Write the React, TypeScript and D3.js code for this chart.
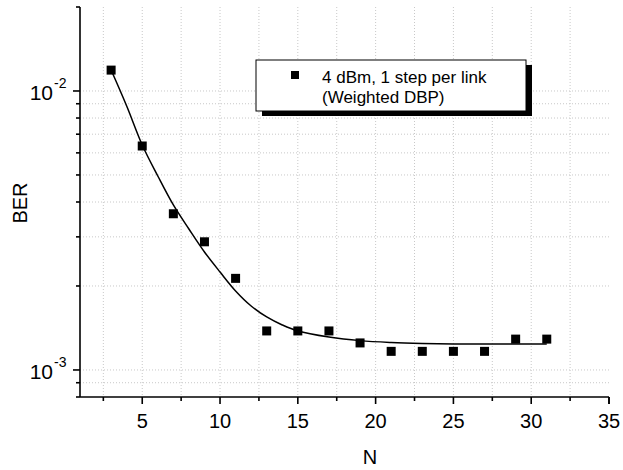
import * as d3 from "d3";

const width = 623;
const height = 470;
const margin = { left: 80, right: 14, top: 7, bottom: 73 };

// measured points
const nValues = [3, 5, 7, 9, 11, 13, 15, 17, 19, 21, 23, 25, 27, 29, 31];
const berValues = [
    0.01188, 0.00635, 0.00363, 0.00288, 0.00213, 0.00138, 0.00138, 0.00138,
    0.00125, 0.001166, 0.001166, 0.001166, 0.001166, 0.00129, 0.00129,
];

// fitted curve
const fitN = [3, 4, 5, 6, 7, 8, 9, 10, 11, 12, 13, 14, 15, 17, 19, 21, 23, 25, 27, 29, 31];
const fitBer = [
    0.01189, 0.008835, 0.006405, 0.004958, 0.003903, 0.003201, 0.002648, 0.002245,
    0.00192, 0.001696, 0.001549, 0.00145, 0.00138, 0.001313, 0.001274, 0.001255,
    0.001245, 0.00124, 0.00124, 0.00124, 0.00124,
];

const xMajor = [5, 10, 15, 20, 25, 30, 35];
const xMinor = [2.5, 7.5, 12.5, 17.5, 22.5, 27.5, 32.5];
const yMajor = [{ v: 0.01, exp: "-2" }, { v: 0.001, exp: "-3" }];
const yMinor = [0.0009, 0.002, 0.003, 0.004, 0.005, 0.006, 0.007, 0.008, 0.009, 0.02];

const legendLines = ["4 dBm, 1 step per link", "(Weighted DBP)"];

const font = "Arial, 'Liberation Sans', sans-serif";

export default function App() {
    const x = d3.scaleLinear().domain([1, 35]).range([margin.left, width - margin.right]);
    const y = d3.scaleLog().domain([0.0008, 0.02]).range([height - margin.bottom, margin.top]);

    const x0 = margin.left;
    const x1 = width - margin.right;
    const y0 = height - margin.bottom;
    const y1 = margin.top;

    const line = d3.line<number>()
        .x((d, i) => x(fitN[i]))
        .y(d => y(d))
        .curve(d3.curveCatmullRom.alpha(0.5));

    const gridV = [...xMinor, ...xMajor.filter(v => v < 35)];
    const gridH = [...yMinor.filter(v => v < 0.02), ...yMajor.map(d => d.v)];

    const sq = 9;

    return (
        <svg width={width} height={height} style={{ position: "absolute", left: 0, top: 0, background: "#fff" }} fontFamily={font}>
            {/* grid */}
            <g stroke="#c8c8c8" strokeWidth={1} strokeDasharray="1,2">
                {gridV.map(v => <line key={"gv" + v} x1={x(v)} x2={x(v)} y1={y1} y2={y0} />)}
                {gridH.map(v => <line key={"gh" + v} x1={x0} x2={x1} y1={y(v)} y2={y(v)} />)}
            </g>

            {/* axes */}
            <g stroke="#000" strokeWidth={1.6} fill="none">
                <line x1={x0} x2={x0} y1={y1} y2={y0} />
                <line x1={x0} x2={x1} y1={y0} y2={y0} />
                {xMajor.map(v => <line key={"xt" + v} x1={x(v)} x2={x(v)} y1={y0} y2={y0 + 7} />)}
                {xMinor.map(v => <line key={"xm" + v} x1={x(v)} x2={x(v)} y1={y0} y2={y0 + 4} />)}
                <line x1={x1} x2={x1} y1={y0} y2={y0 + 7} />
                {yMajor.map(d => <line key={"yt" + d.v} x1={x0 - 7} x2={x0} y1={y(d.v)} y2={y(d.v)} />)}
                {yMinor.map(v => <line key={"ym" + v} x1={x0 - 4} x2={x0} y1={y(v)} y2={y(v)} />)}
                <line x1={x0 - 4} x2={x0} y1={y0} y2={y0} />
            </g>

            {/* tick labels */}
            <g fill="#000">
                {xMajor.map(v => (
                    <text key={"xl" + v} x={x(v)} y={y0 + 31} fontSize={20} textAnchor="middle">{v}</text>
                ))}
                {yMajor.map(d => (
                    <text key={"yl" + d.v} x={53} y={y(d.v) + 9} fontSize={21} textAnchor="end">
                        10
                        <tspan x={54} dy={-12} fontSize={14} textAnchor="start">{d.exp}</tspan>
                    </text>
                ))}
            </g>

            {/* axis titles */}
            <text x={370} y={464} fontSize={20} textAnchor="middle">N</text>
            <text transform={`translate(27,203) rotate(-90)`} fontSize={20} textAnchor="middle">BER</text>

            {/* fit */}
            <path d={line(fitBer) ?? ""} fill="none" stroke="#000" strokeWidth={1.5} />

            {/* points */}
            {nValues.map((n, i) => (
                <rect key={"p" + n} x={x(n) - sq / 2} y={y(berValues[i]) - sq / 2} width={sq} height={sq} fill="#000" />
            ))}

            {/* legend */}
            <g>
                <rect x={262} y={65} width={270} height={51} fill="#000" />
                <rect x={256} y={60} width={270} height={51} fill="#fff" stroke="#000" strokeWidth={1} />
                <rect x={295 - 4} y={75 - 4} width={8} height={8} fill="#000" />
                {legendLines.map((t, i) => (
                    <text key={t} x={322} y={83 + i * 20} fontSize={17}>{t}</text>
                ))}
            </g>
        </svg>
    );
}
